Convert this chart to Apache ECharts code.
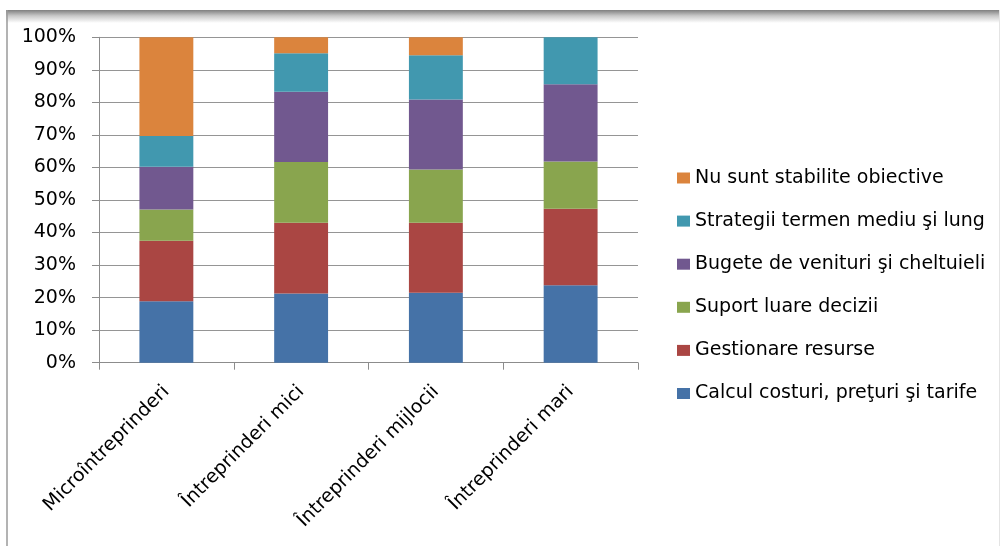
<!DOCTYPE html>
<html>
<head>
<meta charset="utf-8">
<script src="https://cdn.jsdelivr.net/npm/echarts@6/dist/echarts.min.js"></script>
<style>
  html, body { margin: 0; padding: 0; background: #fff; }
  #chart { width: 1000px; height: 546px; }
</style>
</head>
<body>
<div id="chart"></div>
<script>
// Enterprise size classes
const categories = ['Microîntreprinderi', 'Întreprinderi mici', 'Întreprinderi mijlocii', 'Întreprinderi mari'];

// Share of answers (%) per enterprise class, stacked bottom to top
const calculCosturi = [18.9, 21.3, 21.5, 23.8];
const gestionareResurse = [18.6, 21.7, 21.5, 23.5];
const suportDecizii = [9.6, 18.7, 16.4, 14.5];
const bugete = [13.1, 21.6, 21.5, 23.8];
const strategii = [9.5, 11.8, 13.6, 14.4];
const nuSuntObiective = [30.3, 4.9, 5.5, 0];

const seriesNames = [
  'Calcul costuri, preţuri şi tarife',
  'Gestionare resurse',
  'Suport luare decizii',
  'Bugete de venituri şi cheltuieli',
  'Strategii termen mediu şi lung',
  'Nu sunt stabilite obiective'
];
const seriesValues = [calculCosturi, gestionareResurse, suportDecizii, bugete, strategii, nuSuntObiective];
const colors = ['#4572A7', '#AA4643', '#89A54E', '#71588F', '#4198AF', '#DB843D'];

const yTicks = [0, 10, 20, 30, 40, 50, 60, 70, 80, 90, 100];

const FONT = 'DejaVu Sans';

const chart = echarts.init(document.getElementById('chart'), null, { renderer: 'canvas' });

chart.setOption({
  animation: false,
  backgroundColor: '#ffffff',
  color: colors,
  textStyle: { fontFamily: FONT },
  graphic: [
    // frame shading along the top edge
    {
      type: 'rect',
      shape: { x: 6, y: 10, width: 994, height: 13 },
      style: {
        fill: new echarts.graphic.LinearGradient(0, 0, 0, 1, [
          { offset: 0, color: '#7f7f7f' },
          { offset: 0.45, color: '#c8c8c8' },
          { offset: 1, color: '#ffffff' }
        ])
      },
      silent: true
    },
    // frame left edge
    {
      type: 'line',
      shape: { x1: 7, y1: 10, x2: 7, y2: 546 },
      style: { stroke: '#9a9a9a', lineWidth: 1.5 },
      silent: true
    },
    // frame right edge
    {
      type: 'line',
      shape: { x1: 999.5, y1: 10, x2: 999.5, y2: 546 },
      style: { stroke: '#e4e4e4', lineWidth: 1 },
      silent: true
    }
  ],
  grid: {
    left: 99,
    right: 362,
    top: 37.3,
    bottom: 183.3,
    containLabel: false
  },
  legend: {
    orient: 'vertical',
    left: 672,
    top: 163,
    itemWidth: 13,
    itemHeight: 11,
    itemGap: 23.1,
    icon: 'rect',
    data: seriesNames.slice().reverse(),
    textStyle: {
      fontFamily: FONT,
      fontSize: 19,
      color: '#000000',
      lineHeight: 20
    }
  },
  xAxis: {
    type: 'category',
    data: categories,
    axisLine: { lineStyle: { color: '#8c8c8c', width: 1 } },
    axisTick: { show: true, alignWithLabel: false, length: 7, lineStyle: { color: '#8c8c8c' } },
    axisLabel: {
      rotate: 45,
      margin: 26,
      align: 'right',
      verticalAlign: 'middle',
      interval: 0,
      fontFamily: FONT,
      fontSize: 19,
      color: '#000000'
    },
    splitLine: { show: false }
  },
  yAxis: {
    type: 'value',
    min: yTicks[0],
    max: yTicks[yTicks.length - 1],
    interval: yTicks[1] - yTicks[0],
    axisLine: { show: true, lineStyle: { color: '#8c8c8c', width: 1 } },
    axisTick: { show: true, inside: false, length: 7, lineStyle: { color: '#8c8c8c' } },
    axisLabel: {
      formatter: '{value}%',
      margin: 23,
      fontFamily: FONT,
      fontSize: 19,
      color: '#000000'
    },
    splitLine: { show: true, lineStyle: { color: '#959595', width: 1.2 } }
  },
  series: seriesNames.map((name, i) => ({
    name: name,
    type: 'bar',
    stack: 'total',
    barWidth: '40%',
    data: seriesValues[i],
    itemStyle: { color: colors[i] }
  }))
});
</script>
</body>
</html>
